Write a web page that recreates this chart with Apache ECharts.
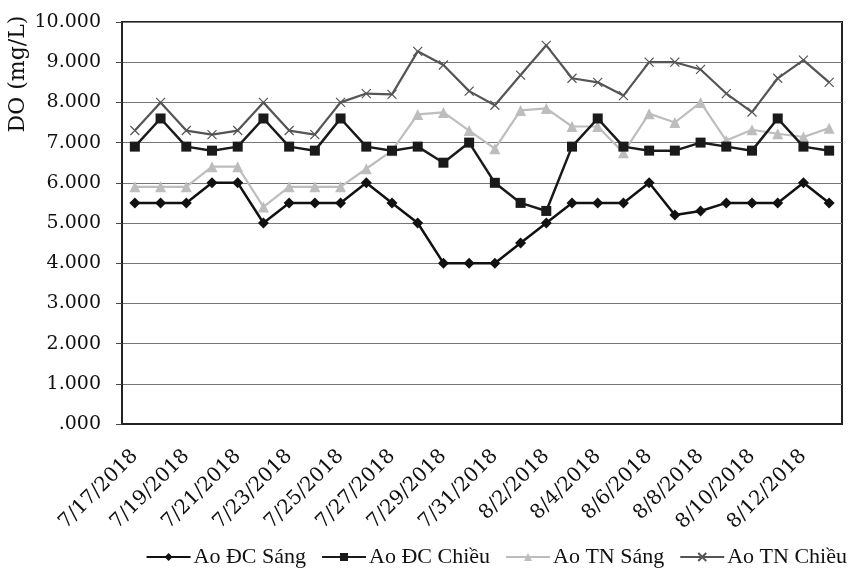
<!DOCTYPE html>
<html>
<head>
<meta charset="utf-8">
<script src="https://cdn.jsdelivr.net/npm/echarts@6/dist/echarts.min.js"></script>
<style>html,body{margin:0;padding:0;background:#fff}#c{width:854px;height:575px}</style>
</head>
<body>
<div id="c"></div>
<script>
var dates = ['7/17/2018','7/18/2018','7/19/2018','7/20/2018','7/21/2018','7/22/2018','7/23/2018','7/24/2018','7/25/2018','7/26/2018','7/27/2018','7/28/2018','7/29/2018','7/30/2018','7/31/2018','8/1/2018','8/2/2018','8/3/2018','8/4/2018','8/5/2018','8/6/2018','8/7/2018','8/8/2018','8/9/2018','8/10/2018','8/11/2018','8/12/2018','8/13/2018'];
var aoDCSang   = [5.5,5.5,5.5,6.0,6.0,5.0,5.5,5.5,5.5,6.0,5.5,5.0,4.0,4.0,4.0,4.5,5.0,5.5,5.5,5.5,6.0,5.2,5.3,5.5,5.5,5.5,6.0,5.5];
var aoDCChieu  = [6.9,7.6,6.9,6.8,6.9,7.6,6.9,6.8,7.6,6.9,6.8,6.9,6.5,7.0,6.0,5.5,5.3,6.9,7.6,6.9,6.8,6.8,7.0,6.9,6.8,7.6,6.9,6.8];
var aoTNSang   = [5.9,5.9,5.9,6.4,6.4,5.4,5.9,5.9,5.9,6.35,6.8,7.7,7.75,7.3,6.85,7.8,7.85,7.4,7.4,6.75,7.72,7.5,8.0,7.05,7.32,7.22,7.14,7.36];
var aoTNChieu  = [7.3,8.0,7.3,7.2,7.3,8.0,7.3,7.2,8.0,8.22,8.2,9.27,8.93,8.28,7.93,8.68,9.42,8.6,8.5,8.17,9.0,9.0,8.82,8.22,7.76,8.6,9.05,8.5];
var seriesNames = ['Ao ĐC Sáng','Ao ĐC Chiều','Ao TN Sáng','Ao TN Chiều'];
var yTickLabels = ['.000','1.000','2.000','3.000','4.000','5.000','6.000','7.000','8.000','9.000','10.000'];
var yTitle = 'DO (mg/L)';

var chart = echarts.init(document.getElementById('c'), null, {renderer:'canvas'});
var axisFont = 'DejaVu Serif';
chart.setOption({
  animation: false,
  backgroundColor: '#fff',
  grid: {left:122, right:12, top:22, bottom:151, show:true, borderColor:'#222', borderWidth:2},
  graphic: [{
    type:'text', x:18, y:74, rotation: Math.PI/2,
    style:{text:yTitle, font:'22px "DejaVu Serif"', fill:'#111', textAlign:'center', textVerticalAlign:'middle'}
  }],
  legend: {
    data: seriesNames, bottom: 2, right: 2, itemWidth: 44, itemHeight: 10, itemGap: 15,
    textStyle:{fontFamily:'Liberation Serif', fontSize:22, color:'#111', padding:[0,0,0,-2]}
  },
  xAxis: {
    type:'category', data: dates, boundaryGap:true,
    axisLine:{lineStyle:{color:'#222', width:2}},
    axisTick:{interval:1, length:6, lineStyle:{color:'#444', width:1}},
    axisLabel:{interval:1, rotate:45, margin:29, fontFamily:axisFont, fontSize:20, color:'#111'},
    splitLine:{show:false}
  },
  yAxis: {
    type:'value', min:0, max:10, interval:1,
    axisLine:{show:true, lineStyle:{color:'#222', width:2}},
    axisTick:{show:true, length:6, lineStyle:{color:'#444', width:1}},
    axisLabel:{margin:21, fontFamily:axisFont, fontSize:19, color:'#111',
      formatter:function(v){return yTickLabels[Math.round(v)];}},
    splitLine:{lineStyle:{color:'#777', width:1}}
  },
  series: [
    {name:seriesNames[0], type:'line', data:aoDCSang, symbol:'diamond', symbolSize:11,
     lineStyle:{color:'#111', width:2.5}, itemStyle:{color:'#111'}, z:4},
    {name:seriesNames[1], type:'line', data:aoDCChieu, symbol:'rect', symbolSize:10,
     lineStyle:{color:'#1a1a1a', width:2.5}, itemStyle:{color:'#1a1a1a'}, z:3},
    {name:seriesNames[2], type:'line', data:aoTNSang, symbol:'triangle', symbolSize:11,
     lineStyle:{color:'#bdbdbd', width:2.2}, itemStyle:{color:'#bdbdbd'}, z:2},
    {name:seriesNames[3], type:'line', data:aoTNChieu, symbol:'path://M0,0L10,10M10,0L0,10', symbolSize:9,
     lineStyle:{color:'#555', width:2.2}, itemStyle:{color:'#555', borderColor:'#555', borderWidth:1.2}, z:1}
  ]
});
</script>
</body>
</html>
